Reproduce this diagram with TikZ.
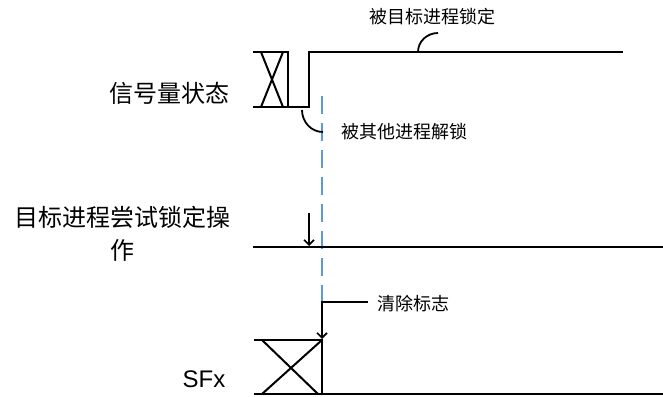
\documentclass[tikz,border=0pt]{standalone}
\usepackage{fontspec}
\setmainfont{Liberation Sans}
\newfontfamily\cjk{Noto Sans CJK SC}
\usetikzlibrary{arrows.meta}
\definecolor{dashblue}{RGB}{91,155,213}
\begin{document}
\begin{tikzpicture}[x=1pt,y=-1pt,
  wave/.style={line width=2pt,black},
  bluedash/.style={line width=1.6pt,dashoc,dash pattern=on 18pt off 9pt},
  dashoc/.style={draw=dashblue},
  arr/.style={line width=1.6pt,-{Straight Barb[length=5pt,width=10pt,line width=1.6pt]}},
  callout/.style={line width=1.8pt},
  biglabel/.style={font=\cjk\fontsize{24}{33}\selectfont,inner sep=0pt,align=center},
  smalllabel/.style={font=\cjk\fontsize{18}{22}\selectfont,inner sep=0pt},
  latinlabel/.style={font=\fontsize{24}{28}\selectfont,inner sep=0pt}]
\useasboundingbox (0,0) rectangle (663,396);

% labels
\node[biglabel] (lsem) at (169,93) {信号量状态};
\node[biglabel] (lop) at (122,233.5) {目标进程尝试锁定操\\作};
\node[latinlabel] (lsfx) at (204,379) {SFx};
\node[smalllabel] (llock) at (432,17) {被目标进程锁定};
\node[smalllabel] (lunlock) at (404,132) {被其他进程解锁};
\node[smalllabel] (lclear) at (413,304) {清除标志};

% blue dashed line
\draw[bluedash] (322,96) -- (322,340);

% semaphore state waveform
\draw[wave] (253,52) -- (288,52) -- (288,107);
\draw[wave] (253,107) -- (309,107) -- (309,52) -- (623,52);
\draw[wave] (261,52) -- (283,107);
\draw[wave] (283,52) -- (261,107);

% callout curves
\coordinate (ca) at (418,52);
\coordinate (cb) at (438,33);
\draw[callout] (ca) to[out=90,in=180] (cb);
\coordinate (cc) at (302,110);
\coordinate (cd) at (323,132);
\draw[callout] (cc) to[out=-90,in=180] (cd);

% target operation line
\draw[wave] (253,247) -- (663,247);
\coordinate (oa) at (309,213);
\coordinate (ob) at (309,246);
\draw[arr] (oa) -- (ob);

% SFx waveform
\draw[wave] (254,340) -- (322,340) -- (322,394);
\draw[wave] (254,394) -- (663,394);
\draw[wave] (262,340) -- (318,394);
\draw[wave] (322,340) -- (262,394);

% clear flag arrow
\coordinate (fa) at (368,302);
\coordinate (fb) at (322,339);
\draw[arr] (fa) -| (fb);
\end{tikzpicture}
\end{document}
